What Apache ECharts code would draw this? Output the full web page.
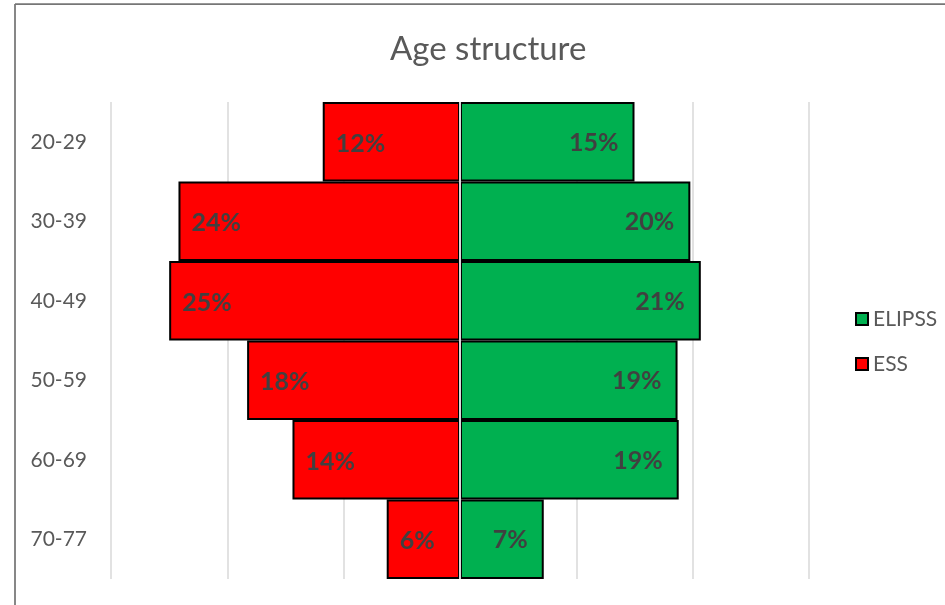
<!DOCTYPE html>
<html>
<head>
<meta charset="utf-8">
<script src="https://cdn.jsdelivr.net/npm/echarts@6/dist/echarts.min.js"></script>
<style>
  html, body { margin: 0; padding: 0; background: #fff; }
  #main { width: 945px; height: 605px; }
</style>
</head>
<body>
<div id="main"></div>
<script>
  // age groups, top to bottom
  var categories = ['20-29', '30-39', '40-49', '50-59', '60-69', '70-77']
  // share of respondents (%)
  var essValues = [11.8, 24.2, 25.0, 18.3, 14.4, 6.3]
  var elipssValues = [15.0, 19.8, 20.7, 18.7, 18.8, 7.2]

  var font = 'Lato, "Liberation Sans", sans-serif'

  function pct (p) {
    return Math.round(Math.abs(p.value)) + '%'
  }

  var option = {
    animation: false,
    backgroundColor: '#fff',
    textStyle: { fontFamily: font },
    title: {
      text: 'Age structure',
      left: 385,
      top: 28,
      textStyle: { color: '#595959', fontSize: 33, fontWeight: 'normal', fontFamily: font }
    },
    legend: {
      data: ['ELIPSS', 'ESS'],
      orient: 'vertical',
      left: 850,
      top: 303,
      itemWidth: 12,
      itemHeight: 12,
      itemGap: 23,
      icon: 'rect',
      itemStyle: { borderColor: '#000', borderWidth: 2 },
      textStyle: { color: '#595959', fontSize: 21, lineHeight: 22, padding: [0, 0, 0, 0] }
    },
    grid: {
      left: 111,
      right: 136,
      top: 102,
      bottom: 26
    },
    xAxis: {
      type: 'value',
      min: -30,
      max: 30,
      interval: 10,
      axisLabel: { show: false },
      axisLine: { show: false },
      axisTick: { show: false },
      splitLine: { lineStyle: { color: '#d9d9d9', width: 1.5 } }
    },
    yAxis: {
      type: 'category',
      data: categories,
      inverse: true,
      axisLine: { show: false },
      axisTick: { show: false },
      axisLabel: { color: '#595959', fontSize: 21, margin: 24 }
    },
    graphic: [
      { type: 'line', shape: { x1: 15, y1: 4, x2: 945, y2: 4 }, style: { stroke: '#767676', lineWidth: 1.75 } },
      { type: 'line', shape: { x1: 15, y1: 4, x2: 15, y2: 605 }, style: { stroke: '#767676', lineWidth: 1.75 } }
    ],
    series: [
      {
        name: 'ESS',
        type: 'bar',
        data: essValues.map(function (v) { return -v }),
        barCategoryGap: '0%',
        barGap: '-100%',
        itemStyle: { color: '#ff0000', borderColor: '#000', borderWidth: 2 },
        label: {
          show: true,
          position: 'insideLeft',
          distance: 13,
          offset: [0, 2],
          formatter: pct,
          color: '#404040',
          fontSize: 25,
          fontWeight: 'bold'
        }
      },
      {
        name: 'ELIPSS',
        type: 'bar',
        data: elipssValues,
        barCategoryGap: '0%',
        barGap: '-100%',
        itemStyle: { color: '#00b050', borderColor: '#000', borderWidth: 2 },
        label: {
          show: true,
          position: 'insideRight',
          distance: 16,
          offset: [0, 1],
          formatter: pct,
          color: '#404040',
          fontSize: 25,
          fontWeight: 'bold'
        },
        markLine: {
          silent: true,
          symbol: 'none',
          label: { show: false },
          lineStyle: { color: '#d9d9d9', width: 2, type: 'solid' },
          data: [{ xAxis: 0 }]
        }
      }
    ]
  }

  var chart = echarts.init(document.getElementById('main'))
  chart.setOption(option)
</script>
</body>
</html>
